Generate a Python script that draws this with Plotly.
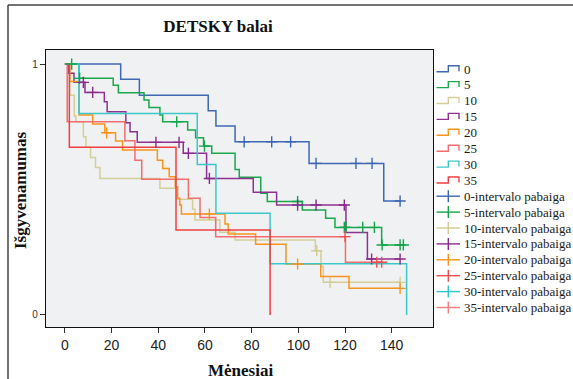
import plotly.graph_objects as go

# ---------------- data (Kaplan-Meier steps) ----------------
names = ["0", "5", "10", "15", "20", "25", "30", "35"]

t0 = [0, 23.9, 31.9, 61.4, 64.7, 72.9, 104.6, 136.6, 143.6]
s0 = [1, .939, .876, .814, .753, .690, .604, .454, .454]
c0t = [76.8, 88.6, 96.7, 107.6, 124.7, 131.6, 143.6]
c0s = [.690, .690, .690, .604, .604, .604, .454]

t5 = [0, 6.0, 20.7, 22.9, 33.9, 36.0, 40.7, 41.9, 52.6, 56.0, 59.4, 62.9, 72.9, 74.7, 83.9, 86.7,
      101.7, 111.7, 115.7, 135.7, 145.0]
s5 = [1, .943, .916, .886, .857, .827, .797, .770, .737, .706, .673, .644, .580, .549, .485, .452,
      .418, .385, .349, .279, .279]
c5t = [2.9, 6.3, 47.9, 59.8, 99.7, 119.7, 120.4, 127.6, 132.6, 135.9, 143.6, 145.0]
c5s = [1, .943, .770, .673, .452, .349, .349, .349, .349, .279, .279, .279]

t10 = [0, 2.1, 4.0, 4.7, 7.9, 9.0, 11.0, 13.1, 15.0, 40.7, 47.9, 54.7, 55.7, 66.4, 72.9, 107.3,
       109.7, 110.7, 143.6]
s10 = [1, .876, .793, .770, .710, .668, .628, .588, .544, .505, .461, .421, .378, .330, .299, .256,
       .193, .130, .130]
c10t = [107.9, 113.6, 143.6]
c10s = [.256, .130, .130]

t15 = [0, 1.4, 3.9, 8.6, 16.9, 18.1, 26.1, 27.9, 31.0, 50.7, 60.7, 80.7, 90.7, 120.4, 129.6, 143.6]
s15 = [1, .963, .927, .887, .850, .810, .766, .730, .688, .644, .544, .489, .438, .329, .223, .223]
c15t = [7.9, 11.9, 39.0, 48.9, 52.9, 61.9, 99.7, 107.6, 119.7, 131.4, 143.6]
c15s = [.927, .887, .688, .688, .644, .544, .438, .438, .438, .223, .223]

t20 = [0, 2.1, 6.1, 11.9, 17.1, 21.7, 24.7, 39.6, 41.9, 44.7, 47.3, 48.3, 49.2, 49.9, 68.6, 70.0,
       81.7, 94.7, 109.6, 121.7, 143.6]
s20 = [1, .930, .797, .761, .726, .693, .657, .617, .584, .551, .511, .465, .438, .402, .363, .323,
       .282, .203, .153, .106, .106]
c20t = [17.9, 61.9, 99.7, 143.6]
c20s = [.726, .402, .203, .106]

t25 = [0, 1.0, 25.7, 30.0, 32.9, 52.9, 57.9, 64.6, 120.2, 136.4]
s25 = [1, .770, .694, .617, .541, .465, .388, .312, .210, .210]
c25t = [120.0, 133.6, 135.7]
c25s = [.312, .210, .210]

t30 = [0, 6.0, 56.7, 64.7, 87.9, 146.4]
s30 = [1, .803, .600, .405, .204, 0]
c30t = []
c30s = []

t35 = [0, 1.9, 47.6, 87.9]
s35 = [1, .668, .339, 0]
c35t = []
c35s = []

x_ticks = [0, 20, 40, 60, 80, 100, 120, 140]
y_ticks = [0, 1]

# ---------------- style ----------------
line_colors = ["#3f68b4", "#1aa84b", "#d4cf97", "#8e3192", "#f7941e", "#f26e6e", "#3ec7c9", "#ee4040"]
cens_colors = ["#3a66b3", "#12a54a", "#d0cc96", "#8a2a8f", "#f7941e", "#f05050", "#2cc7cc", "#f37f7f"]

times = [t0, t5, t10, t15, t20, t25, t30, t35]
survs = [s0, s5, s10, s15, s20, s25, s30, s35]
ctimes = [c0t, c5t, c10t, c15t, c20t, c25t, c30t, c35t]
csurvs = [c0s, c5s, c10s, c15s, c20s, c25s, c30s, c35s]

W, H = 573, 379
L, R, T, B = 46, 433, 50, 327
SERIF = "Liberation Serif, Times New Roman, serif"
SANS = "Liberation Sans, Arial, sans-serif"


def px2x(px):
    return (px - L) / (R - L)


def py2y(py):
    return (B - py) / (B - T)


fig = go.Figure()
for i in range(8):
    fig.add_trace(go.Scatter(x=times[i], y=survs[i], mode="lines", line_shape="hv",
                             line=dict(color=line_colors[i], width=1.5),
                             name=names[i], showlegend=False, hoverinfo="skip"))
for i in range(8):
    if ctimes[i]:
        fig.add_trace(go.Scatter(x=ctimes[i], y=csurvs[i], mode="markers",
                                 marker=dict(symbol="cross-thin", size=8,
                                             line=dict(color=cens_colors[i], width=1.4)),
                                 name=names[i] + "-intervalo pabaiga", showlegend=False,
                                 hoverinfo="skip"))

shapes = []
annotations = []

# outer frame (left and top)
shapes.append(dict(type="line", xref="paper", yref="paper", x0=px2x(8), x1=px2x(8),
                   y0=py2y(5), y1=py2y(380), line=dict(color="#444", width=1.5)))
shapes.append(dict(type="line", xref="paper", yref="paper", x0=px2x(8), x1=px2x(574),
                   y0=py2y(5), y1=py2y(5), line=dict(color="#444", width=1.5)))

# manual legend
legend_labels = names + [n + "-intervalo pabaiga" for n in names]
for k, lab in enumerate(legend_labels):
    c = 69 + 15.9 * k
    if k < 8:
        col = line_colors[k]
        path = "M {:.5f} {:.5f} L {:.5f} {:.5f} L {:.5f} {:.5f} L {:.5f} {:.5f} L {:.5f} {:.5f}".format(
            px2x(436.5), py2y(c + 2.7), px2x(448.3), py2y(c + 2.7), px2x(448.3), py2y(c - 3.3),
            px2x(459), py2y(c - 3.3), px2x(459), py2y(c + 2.2))
        shapes.append(dict(type="path", xref="paper", yref="paper", path=path,
                           line=dict(color=col, width=1.4)))
    else:
        col = cens_colors[k - 8]
        shapes.append(dict(type="line", xref="paper", yref="paper", x0=px2x(436.5), x1=px2x(460),
                           y0=py2y(c), y1=py2y(c), line=dict(color=col, width=1.4)))
        shapes.append(dict(type="line", xref="paper", yref="paper", x0=px2x(448.3), x1=px2x(448.3),
                           y0=py2y(c - 6), y1=py2y(c + 6), line=dict(color=col, width=1.4)))
    annotations.append(dict(text=lab, xref="paper", yref="paper", x=px2x(462), y=py2y(c),
                            xanchor="left", yanchor="middle", showarrow=False,
                            font=dict(family=SERIF, size=13, color="#1a1a1a")))

# axis titles
annotations.append(dict(text="<b>Mėnesiai</b>", xref="paper", yref="paper", x=px2x(240), y=py2y(370),
                        xanchor="center", yanchor="middle", showarrow=False,
                        font=dict(family=SERIF, size=17, color="#111")))
annotations.append(dict(text="<b>Išgyvenamumas</b>", xref="paper", yref="paper", x=px2x(20),
                        y=py2y(190), xanchor="center", yanchor="middle", showarrow=False,
                        textangle=-90, font=dict(family=SERIF, size=17, color="#111")))

fig.update_layout(
    width=W, height=H,
    margin=dict(l=L, r=W - R, t=T, b=H - B),
    paper_bgcolor="white", plot_bgcolor="#f0f1f3",
    title=dict(text="<b>DETSKY balai</b>", x=218 / W, y=1 - 26 / H, xanchor="center",
               yanchor="middle", xref="container", yref="container",
               font=dict(family=SERIF, size=17, color="#111")),
    shapes=shapes, annotations=annotations, showlegend=False,
    xaxis=dict(range=[-8.1, 157.7], tickvals=x_ticks, ticks="outside", ticklen=5,
               tickcolor="#333", tickwidth=1.2, showgrid=False, zeroline=False,
               showline=True, mirror=True, linecolor="#111", linewidth=1.3,
               tickfont=dict(family=SANS, size=14, color="#222")),
    yaxis=dict(range=[-0.048, 1.056], tickvals=y_ticks, ticks="outside", ticklen=5,
               tickcolor="#333", tickwidth=1.2, showgrid=False, zeroline=False,
               showline=True, mirror=True, linecolor="#111", linewidth=1.3,
               tickfont=dict(family=SANS, size=10, color="#333")),
)

fig.write_html("out.html")
